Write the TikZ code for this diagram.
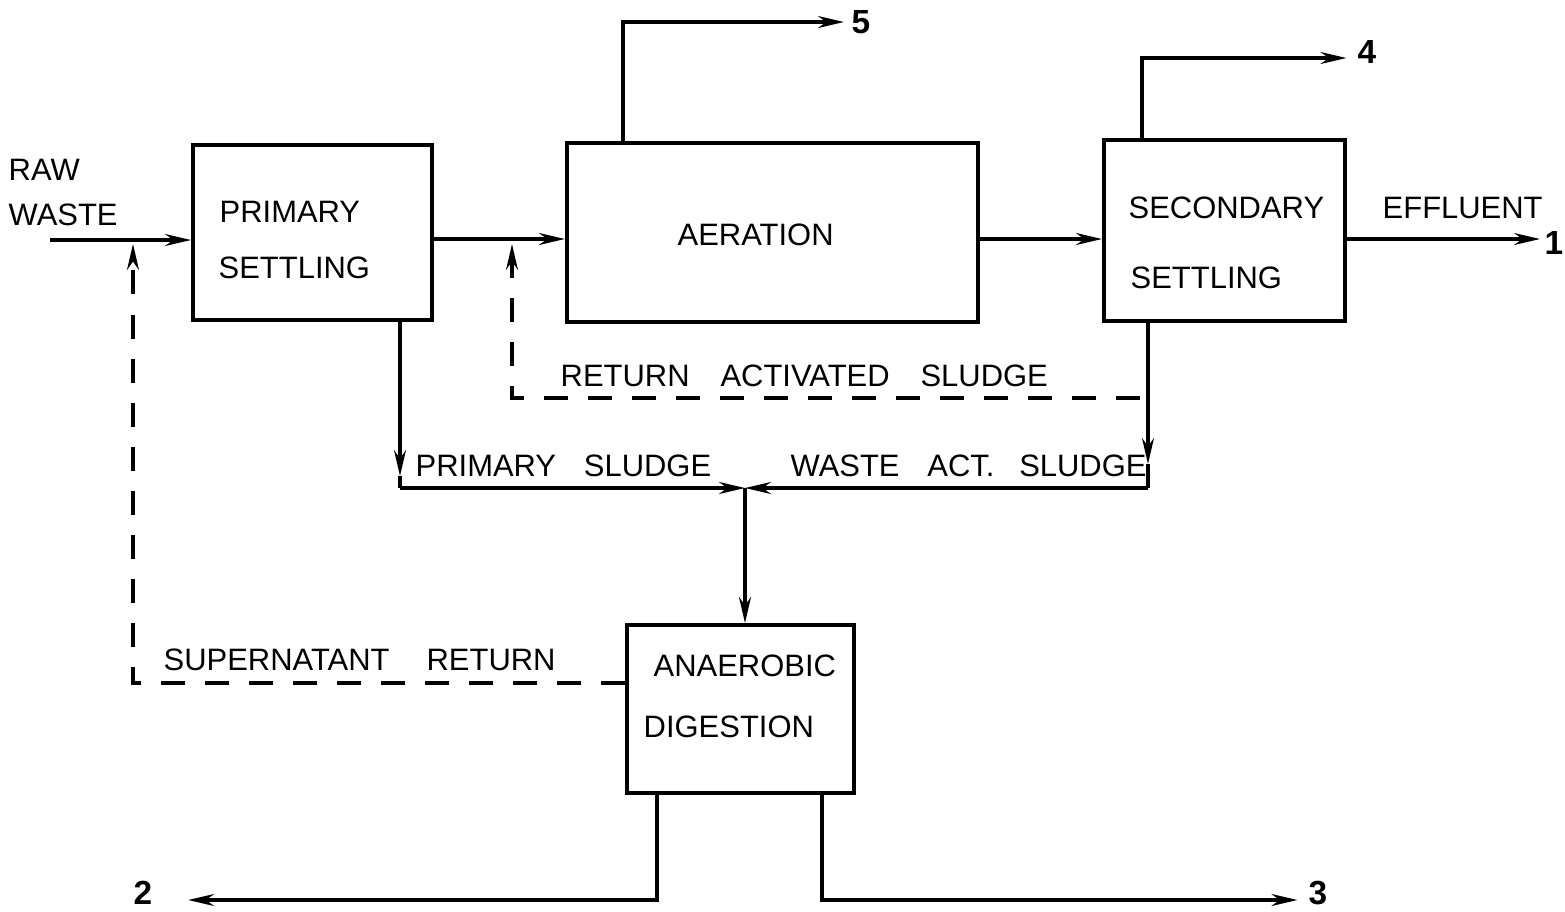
\documentclass[tikz,border=0pt]{standalone}
\usepackage{fontspec}
\setmainfont{Liberation Sans}
\usetikzlibrary{arrows.meta}
\begin{document}
\begin{tikzpicture}[x=0.01cm,y=-0.01cm,
  box/.style={draw, line width=1.1pt, inner sep=0},
  lbl/.style={font=\fontsize{8.8}{10}\selectfont, inner sep=0, anchor=west},
  num/.style={font=\bfseries\fontsize{9.5}{10}\selectfont, inner sep=0, anchor=west},
  flow/.style={line width=0.9pt},
  arr/.style={flow, -{Stealth[length=0.26cm,width=0.12cm]}},
  ret/.style={flow, dash pattern=on 0.24cm off 0.2cm},
  retarr/.style={ret, -{Stealth[length=0.26cm,width=0.12cm]}}
]
\useasboundingbox (0,0) rectangle (1565,911);
% boxes
\node[box, minimum width=2.39cm, minimum height=1.75cm] (ps) at (312.5,232.5) {};
\node[box, minimum width=4.11cm, minimum height=1.79cm] (ae) at (772.5,232.5) {};
\node[box, minimum width=2.41cm, minimum height=1.81cm] (ss) at (1224.5,230.5) {};
\node[box, minimum width=2.27cm, minimum height=1.68cm] (dg) at (740.5,709) {};
% texts
\node[lbl] (raw) at (8,170) {RAW};
\node[lbl] (waste) at (8,215) {WASTE};
\node[lbl] (ps1) at (219,212) {PRIMARY};
\node[lbl] (ps2) at (218,268) {SETTLING};
\node[lbl] (ae1) at (677,235) {AERATION};
\node[lbl] (ss1) at (1128,208) {SECONDARY};
\node[lbl] (ss2) at (1130,278) {SETTLING};
\node[lbl] (eff) at (1382,208) {EFFLUENT};
\node[lbl] (dg1) at (653,666) {ANAEROBIC};
\node[lbl] (dg2) at (643,727) {DIGESTION};
\node[lbl] (ras) at (560,376) {RETURN\hspace{1em}ACTIVATED\hspace{1em}SLUDGE};
\node[lbl] (psl) at (415,466) {PRIMARY\hspace{0.9em}SLUDGE};
\node[lbl] (was) at (790,466) {WASTE\hspace{0.9em}ACT.\hspace{0.8em}SLUDGE};
\node[lbl] (sup) at (163,660) {SUPERNATANT\hspace{1.2em}RETURN};
\node[num, anchor=center] (n1) at (1554,243) {1};
\node[num] (n2) at (133,893) {2};
\node[num] (n3) at (1308,893) {3};
\node[num] (n4) at (1357,52) {4};
\node[num] (n5) at (851,22) {5};
% helper coordinates
\coordinate (yA) at (0,239);
\coordinate (rw) at (50,240);
\coordinate (e1) at (1540,239);
\coordinate (c5) at (623,22);
\coordinate (c4) at (1142,58);
\coordinate (pj) at (400,488);
\coordinate (pjt) at (400,476);
\coordinate (wj) at (1148,488);
\coordinate (wjt) at (1148,464);
\coordinate (jn) at (745,488);
\coordinate (r1) at (1140,398);
\coordinate (r2) at (512,398);
\coordinate (r3) at (512,244);
\coordinate (s1) at (133,683);
\coordinate (s2) at (133,244);
\coordinate (b2) at (657,900);
\coordinate (b3) at (822,900);
% main flow
\draw[arr] (rw) -- (rw -| ps.west);
\draw[arr] (ps.east |- yA) -- (ae.west |- yA);
\draw[arr] (ae.east |- yA) -- (ss.west |- yA);
\draw[arr] (ss.east |- yA) -- (e1);
% outputs on top
\draw[arr] (ae.north -| c5) -- (c5) -- ([xshift=-2pt]n5.west);
\draw[arr] (ss.north -| c4) -- (c4) -- ([xshift=-3pt]n4.west |- c4);
% sludge lines
\draw[arr] (ps.south -| pj) -- (pjt);
\draw[flow] (pjt) -- (pj);
\draw[arr] (pj) -- (jn);
\draw[arr] (ss.south -| wj) -- (wjt);
\draw[flow] (wjt) -- (wj);
\draw[arr] (wj) -- (jn);
\draw[arr] (jn) -- (dg.north -| jn);
% return activated sludge
\draw[retarr] (r1) -- (r2) -- (r3);
% supernatant return
\draw[retarr] (dg.west |- s1) -- (s1) -- (s2);
% digester outputs
\draw[arr] (dg.south -| b2) -- (b2) -- ([xshift=10pt]n2.east |- b2);
\draw[arr] (dg.south -| b3) -- (b3) -- ([xshift=-3pt]n3.west |- b3);
\end{tikzpicture}
\end{document}
